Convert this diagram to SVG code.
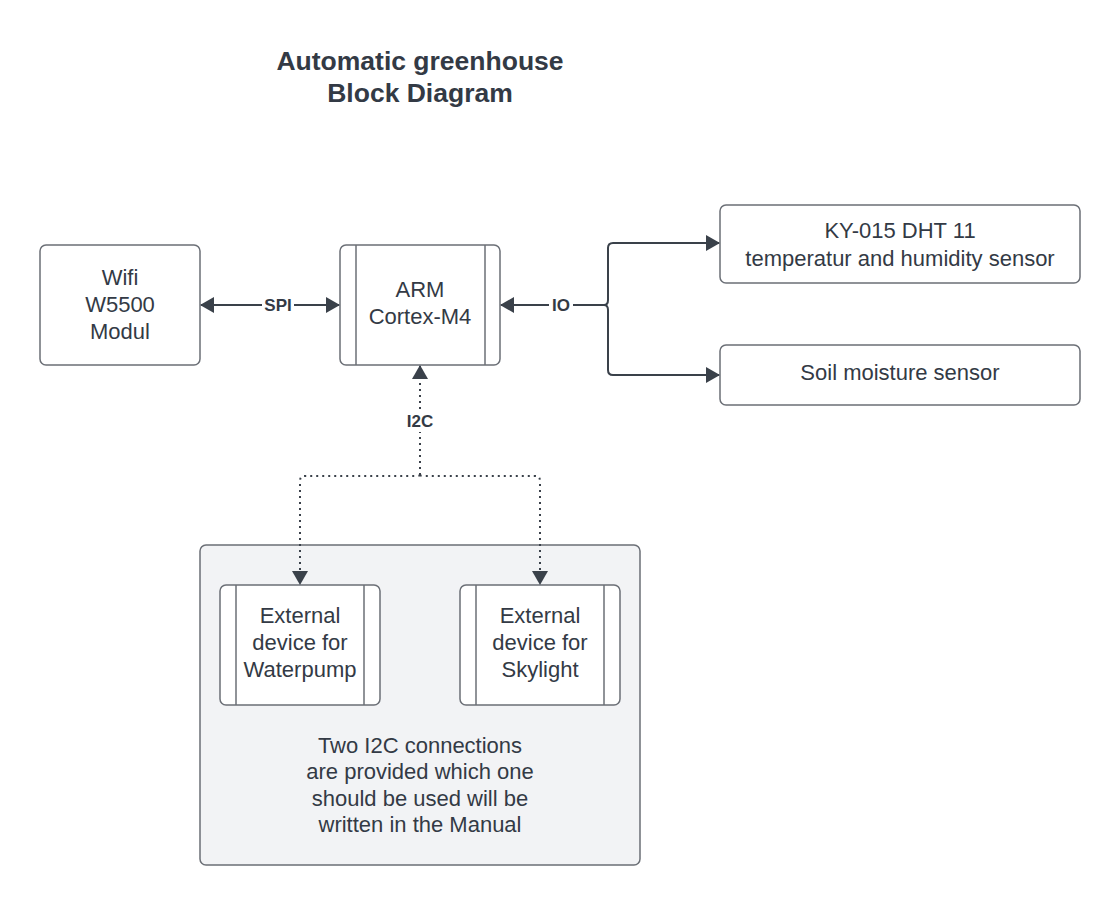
<svg xmlns="http://www.w3.org/2000/svg" width="1120" height="905" viewBox="0 0 1120 905">
<style>
.box{fill:#ffffff;stroke:#6b6f76;stroke-width:1.5}
.grp{fill:#f2f3f5;stroke:#6b6f76;stroke-width:1.5}
.in{stroke:#6b6f76;stroke-width:1.5}
.t{font-family:"Liberation Sans",Arial,sans-serif;font-size:22px;fill:#333a45;text-anchor:middle}
.title{font-family:"Liberation Sans",Arial,sans-serif;font-size:26.5px;font-weight:bold;fill:#333a45;text-anchor:middle}
.lbl{font-family:"Liberation Sans",Arial,sans-serif;font-size:17px;font-weight:bold;fill:#333a45;text-anchor:middle}
.c{fill:none;stroke:#3a414a;stroke-width:2}
.d{fill:none;stroke:#3a414a;stroke-width:2;stroke-dasharray:2 4}
</style>
<defs>
<marker id="ah" viewBox="0 0 14 16" refX="13" refY="8" markerWidth="14" markerHeight="16" markerUnits="userSpaceOnUse" orient="auto-start-reverse">
<path d="M0,0 L14,8 L0,16 z" fill="#3a414a"/>
</marker>
</defs>
<rect width="1120" height="905" fill="#ffffff"/>
<g id="title">
<text class="title" x="420" y="70">Automatic greenhouse</text>
<text class="title" x="420" y="102">Block Diagram</text>
</g>
<g id="group-external">
<rect class="grp" x="200" y="545" width="440" height="320" rx="6"/>
<text class="t" x="420" y="753">Two I2C connections</text>
<text class="t" x="420" y="779">are provided which one</text>
<text class="t" x="420" y="806">should be used will be</text>
<text class="t" x="420" y="832">written in the Manual</text>
</g>
<g id="wifi">
<rect class="box" x="40" y="245" width="160" height="120" rx="6"/>
<text class="t" x="120" y="285">Wifi</text>
<text class="t" x="120" y="312">W5500</text>
<text class="t" x="120" y="339">Modul</text>
</g>
<g id="arm">
<rect class="box" x="340" y="245" width="160" height="120" rx="6"/>
<line class="in" x1="356" y1="245" x2="356" y2="365"/>
<line class="in" x1="485" y1="245" x2="485" y2="365"/>
<text class="t" x="420" y="297">ARM</text>
<text class="t" x="420" y="324">Cortex-M4</text>
</g>
<g id="ky015">
<rect class="box" x="720" y="205" width="360" height="78" rx="6"/>
<text class="t" x="900" y="238">KY-015 DHT 11</text>
<text class="t" x="900" y="266">temperatur and humidity sensor</text>
</g>
<g id="soil">
<rect class="box" x="720" y="345" width="360" height="60" rx="6"/>
<text class="t" x="900" y="380">Soil moisture sensor</text>
</g>
<g id="waterpump">
<rect class="box" x="220" y="585" width="160" height="120" rx="6"/>
<line class="in" x1="236" y1="585" x2="236" y2="705"/>
<line class="in" x1="364" y1="585" x2="364" y2="705"/>
<text class="t" x="300" y="623">External</text>
<text class="t" x="300" y="650">device for</text>
<text class="t" x="300" y="677">Waterpump</text>
</g>
<g id="skylight">
<rect class="box" x="460" y="585" width="160" height="120" rx="6"/>
<line class="in" x1="476" y1="585" x2="476" y2="705"/>
<line class="in" x1="604" y1="585" x2="604" y2="705"/>
<text class="t" x="540" y="623">External</text>
<text class="t" x="540" y="650">device for</text>
<text class="t" x="540" y="677">Skylight</text>
</g>
<g id="connectors">
<line class="c" x1="201" y1="305" x2="339" y2="305" marker-start="url(#ah)" marker-end="url(#ah)"/>
<rect x="262" y="295" width="32" height="20" fill="#ffffff"/>
<text class="lbl" x="278" y="311">SPI</text>
<path class="c" d="M604,305 L501,305" marker-end="url(#ah)"/>
<path class="c" d="M604,305 Q608,305 608,300 L608,248 Q608,243 613,243 L719,243" marker-end="url(#ah)"/>
<path class="c" d="M604,305 Q608,305 608,310 L608,370 Q608,375 613,375 L719,375" marker-end="url(#ah)"/>
<rect x="549" y="295" width="24" height="20" fill="#ffffff"/>
<text class="lbl" x="561" y="311">IO</text>
<path class="d" d="M420,475 L420,366" marker-end="url(#ah)"/>
<path class="d" d="M420,475 Q420,476 415,476 L305,476 Q300,476 300,481 L300,584" marker-end="url(#ah)"/>
<path class="d" d="M420,475 Q420,476 425,476 L535,476 Q540,476 540,481 L540,584" marker-end="url(#ah)"/>
<rect x="404" y="410" width="32" height="22" fill="#ffffff"/>
<text class="lbl" x="420" y="427">I2C</text>
</g>
</svg>
